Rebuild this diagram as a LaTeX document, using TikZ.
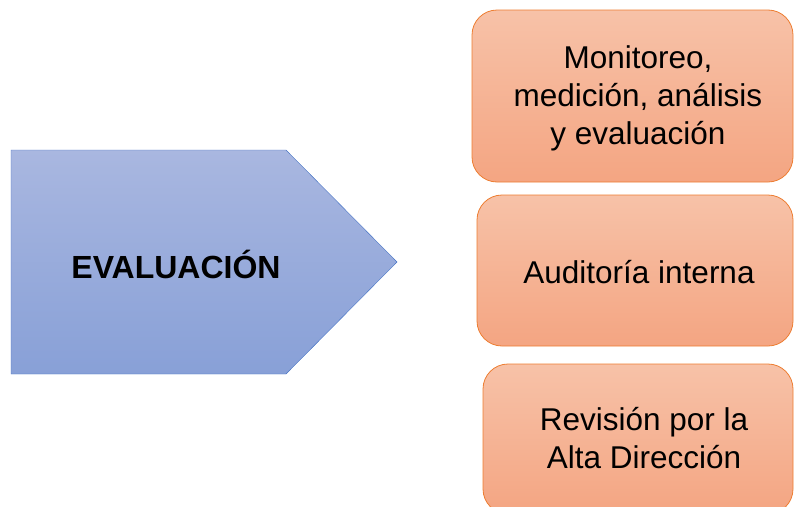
\documentclass[tikz,border=0pt]{standalone}
\usepackage{fontspec}
\setmainfont{Liberation Sans}
\usepackage{tikz}
\usetikzlibrary{positioning}

\definecolor{boxtop}{RGB}{247,194,168}
\definecolor{boxbot}{RGB}{244,165,130}
\definecolor{boxline}{RGB}{237,125,49}
\definecolor{arrtop}{RGB}{169,183,224}
\definecolor{arrbot}{RGB}{136,160,215}
\definecolor{arrline}{RGB}{68,114,196}

\tikzset{
	stagebox/.style={draw=boxline, thick, rounded corners=25pt, top color=boxtop, bottom color=boxbot, inner sep=0pt},
	boxtext/.style={align=center, font=\fontsize{31.5}{38}\selectfont},
	stagetext/.style={align=center, font=\fontsize{32}{38}\selectfont\bfseries}
}

\begin{document}
\begin{tikzpicture}[x=1pt, y=-1pt]
	\useasboundingbox (0,0) rectangle (794,506);
	\clip (0,0) rectangle (794,506);

	% Arrow %
	\draw [arrline, top color=arrtop, bottom color=arrbot] (11,150) -- (286,150) -- (397,262) -- (286,374) -- (11,374) -- cycle;
	\node [stagetext] (eval) at (176,264) {EVALUACIÓN};

	% Boxes %
	\node [stagebox, minimum width=321pt, minimum height=172pt] (mon) at (632.5,96) {};
	\node [boxtext] (montext) at (638,98) {Monitoreo,\\medición, análisis\\y evaluación};
	\node [stagebox, minimum width=316pt, minimum height=151pt] (aud) at (635,270.5) {};
	\node [boxtext] (audtext) at (639,272) {Auditoría interna};
	\node [stagebox, minimum width=310pt, minimum height=150pt] (rev) at (638,439) {};
	\node [boxtext] (revtext) at (644,438) {Revisión por la\\Alta Dirección};
\end{tikzpicture}
\end{document}
